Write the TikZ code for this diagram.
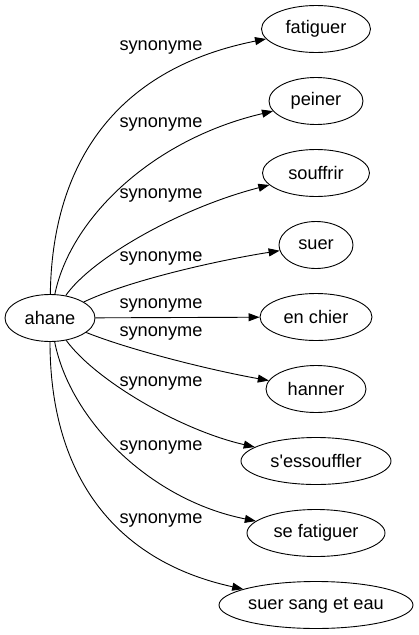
\documentclass[tikz,border=0pt]{standalone}
\usepackage{fontspec}
\setmainfont{Liberation Sans}
\usetikzlibrary{shapes.geometric,arrows.meta}
\begin{document}
\begin{tikzpicture}[x=1pt,y=-1pt,
  word/.style={draw,ellipse,line width=0.9pt,inner sep=0pt,minimum height=47pt,font=\fontsize{18.2}{20}\selectfont},
  rel/.style={font=\fontsize{18.2}{20}\selectfont,inner sep=0pt},
  edge/.style={line width=0.9pt,-{Triangle[length=11pt,width=8pt]}}]
\useasboundingbox (0,0) rectangle (418,635);
\node[word,minimum width=90pt] (ahane) at (50,318) {ahane};
\node[word,minimum width=109pt] (n1) at (316,29) {fatiguer};
\node[word,minimum width=94pt] (n2) at (316,101) {peiner};
\node[word,minimum width=107pt] (n3) at (316,173) {souffrir};
\node[word,minimum width=74pt] (n4) at (316,245) {suer};
\node[word,minimum width=112pt] (n5) at (316,317) {en chier};
\node[word,minimum width=100pt] (n6) at (316,389) {hanner};
\node[word,minimum width=150pt] (n7) at (316,461) {s\textquotesingle essouffler};
\node[word,minimum width=138pt] (n8) at (316,533) {se fatiguer};
\node[word,minimum width=194pt] (n9) at (316,605) {suer sang et eau};
\node[rel] (l1) at (161,47) {synonyme};
\node[rel] (l2) at (161,124) {synonyme};
\node[rel] (l3) at (161,195) {synonyme};
\node[rel] (l4) at (161,258) {synonyme};
\node[rel] (l5) at (161,305) {synonyme};
\node[rel] (l6) at (161,333) {synonyme};
\node[rel] (l7) at (161,383) {synonyme};
\node[rel] (l8) at (161,447) {synonyme};
\node[rel] (l9) at (161,520) {synonyme};
\draw[edge] (ahane) .. controls (52,170) and (110,70) .. (n1);
\draw[edge] (ahane) .. controls (70,220) and (150,140) .. (n2);
\draw[edge] (ahane) .. controls (92,258) and (180,208) .. (n3);
\draw[edge] (ahane) .. controls (130,280) and (220,260) .. (n4);
\draw[edge] (ahane) -- (n5);
\draw[edge] (ahane) .. controls (130,350) and (210,370) .. (n6);
\draw[edge] (ahane) .. controls (95,380) and (180,430) .. (n7);
\draw[edge] (ahane) .. controls (70,420) and (150,500) .. (n8);
\draw[edge] (ahane) .. controls (50,470) and (110,560) .. (n9);
\end{tikzpicture}
\end{document}
